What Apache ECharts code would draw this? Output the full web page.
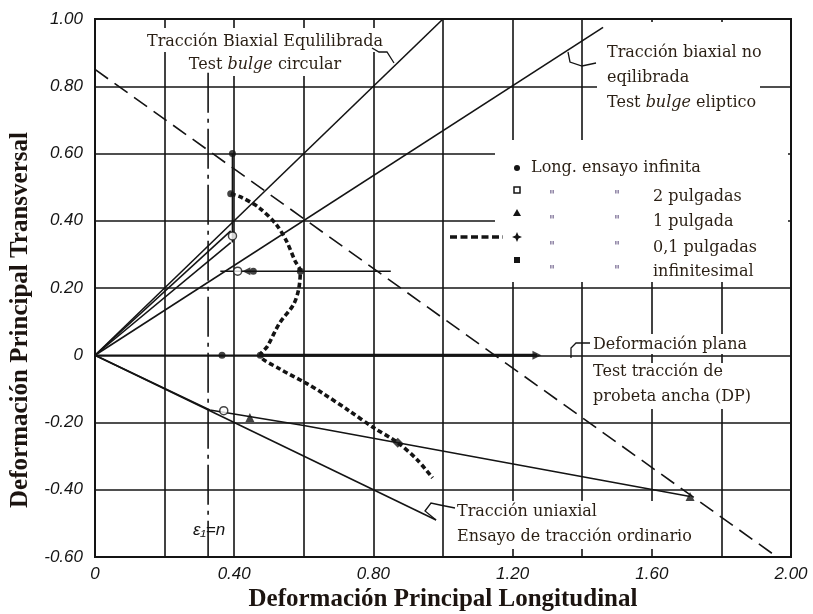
<!DOCTYPE html>
<html><head><meta charset="utf-8">
<script src="https://cdn.jsdelivr.net/npm/echarts@6/dist/echarts.min.js"></script>
<style>html,body{margin:0;padding:0;background:#fff}#c{width:813px;height:614px}</style>
</head><body><div id="c"></div>
<script>
// ---- data ----
const xRange = [0, 2.0];
const yRange = [-0.6, 1.0];
const biaxEq = [[0,0],[1.0,1.0]];
const biaxNoEq = [[0,0],[1.46,0.975]];
const pathA = [[0,0],[0.39,0.37]];
const pathB = [[0,0],[0.39,0.335]];
const pathVert = [[0.395,0.335],[0.395,0.60]];
const pathHoriz = [[0.36,0.25],[0.85,0.25]];
const planeThin = [[0,0],[0.475,0]];
const planeThick = [[0.475,0],[1.27,0]];
const uniaxial = [[0,0],[0.98,-0.49]];
const uniPath = [[0,0],[0.33,-0.163],[0.6,-0.209],[1.71,-0.42]];
const flcLine = [[0,0.85],[1.96,-0.6]];
const nLine = [[0.325,0.84],[0.325,-0.6]];
const flcCurve = [[0.39,0.48],[0.42,0.47],[0.47,0.44],[0.52,0.39],[0.55,0.34],[0.575,0.28],[0.59,0.25],[0.585,0.195],[0.57,0.15],[0.53,0.095],[0.495,0.026],[0.475,0.0],[0.53,-0.04],[0.61,-0.085],[0.65,-0.11],[0.73,-0.165],[0.80,-0.215],[0.87,-0.26],[0.925,-0.31],[0.97,-0.365]];
const dotPts = [[0.395,0.60],[0.39,0.48],[0.455,0.25],[0.59,0.25],[0.365,0],[0.475,0]];
const openPts = [[0.41,0.25],[0.395,0.355],[0.37,-0.165]];
const triPts = [[0.445,-0.185],[1.71,-0.42]];
const arrowRight = [[1.27,0]];
const arrowLeft = [[0.435,0.25]];
const plusPts = [[0.87,-0.26]];

const INK = '#141414';
const TXT = '#2a1f14';

function ln(data, extra) {
  return Object.assign({type:'line', data, symbol:'none', silent:true, z:3,
    lineStyle:{color:INK, width:1.6}}, extra || {});
}
function sc(data, symbol, size, extra) {
  return Object.assign({type:'scatter', data, symbol, symbolSize:size, silent:true, z:4,
    itemStyle:{color:INK}}, extra || {});
}

const series = [
  ln(biaxEq), ln(biaxNoEq), ln(pathA), ln(pathB), ln(pathVert),
  ln(pathHoriz), ln(planeThin), ln(planeThick, {lineStyle:{color:INK,width:3.2}}),
  ln(uniaxial), ln(uniPath),
  ln(flcLine, {lineStyle:{color:INK,width:1.6,type:[16,8]}}),
  ln(nLine, {lineStyle:{color:INK,width:1.6,type:[40,6,4,6]}}),
  ln(flcCurve, {smooth:0.3, lineStyle:{color:INK,width:3.6,type:[5,3]}}),
  sc(dotPts, 'circle', 7),
  sc(openPts, 'circle', 8, {itemStyle:{color:'#fff', borderColor:INK, borderWidth:1.5}}),
  sc(triPts, 'triangle', 9),
  sc(arrowRight, 'triangle', 9, {symbolRotate:-90}),
  sc(arrowLeft, 'triangle', 8, {symbolRotate:90}),
  sc(plusPts, 'diamond', 10)
];

const serif = 'DejaVu Serif';
function txt(text, x, y, align, size, extra) {
  return {type:'text', z:10, style:Object.assign({text, x, y, fill:TXT, fontFamily:serif,
    fontSize:size||16, align:align||'left', verticalAlign:'middle',
    rich:{i:{fontStyle:'italic', fontFamily:serif, fontSize:size||16, fill:TXT}}}, extra||{})};
}
function wrect(x, y, w, h) {
  return {type:'rect', z:1, shape:{x, y, width:w, height:h}, style:{fill:'#fff'}};
}
function pl(points, lw) {
  return {type:'polyline', z:10, shape:{points}, style:{stroke:INK, lineWidth:lw||1.3, fill:null}};
}

const graphic = [
  // white patches behind texts
  wrect(143, 28, 250, 24), wrect(185, 52, 165, 24),
  wrect(597, 22, 191, 57), wrect(597, 79, 163, 10), wrect(597, 89, 191, 193),
  wrect(495, 140, 102, 142),
  wrect(590, 334, 172, 20), wrect(590, 363, 180, 46),
  wrect(455, 501, 246, 48),
  // annotations
  txt('Tracción Biaxial Equlilibrada', 147, 42),
  txt('Test {i|bulge} circular', 265, 65, 'center'),
  txt('Tracción biaxial no', 607, 53),
  txt('eqilibrada', 607, 78),
  txt('Test {i|bulge} eliptico', 607, 103),
  txt('Deformación plana', 593, 345),
  txt('Test tracción de', 593, 372),
  txt('probeta ancha (DP)', 593, 397),
  txt('Tracción uniaxial', 457, 512),
  txt('Ensayo de tracción ordinario', 457, 537),
  // leader marks
  pl([[372,48],[379,52],[387,52],[394,63]]),
  pl([[568,52],[570,62],[582,66],[596,63]]),
  pl([[571,358],[571,348],[576,343],[590,343]]),
  pl([[436,520],[425,511],[431,503],[440,505],[455,508]]),
  // legend
  {type:'circle', z:10, shape:{cx:517, cy:168, r:3}, style:{fill:INK}},
  {type:'rect', z:10, shape:{x:514, y:187, width:6, height:6}, style:{fill:'#fff', stroke:INK, lineWidth:1.5}},
  {type:'polygon', z:10, shape:{points:[[517,209],[513,216],[521,216]]}, style:{fill:INK}},
  {type:'polygon', z:10, shape:{points:[[517,232],[518.5,235.5],[522,237],[518.5,238.5],[517,242],[515.5,238.5],[512,237],[515.5,235.5]]}, style:{fill:INK}},
  {type:'rect', z:10, shape:{x:514, y:257, width:6, height:6}, style:{fill:INK}},
  {type:'line', z:10, shape:{x1:450, y1:237, x2:503, y2:237}, style:{stroke:INK, lineWidth:3.6, lineDash:[7,3.5]}},
  txt('Long. ensayo infinita', 531, 168),
  txt('2 pulgadas', 653, 197), txt('1 pulgada', 653, 222),
  txt('0,1 pulgadas', 653, 248), txt('infinitesimal', 653, 272),
  ...[197,222,248,272].flatMap(y => [
    txt('"', 552, y, 'center', 12, {fill:'#4b3a6e'}),
    txt('"', 617, y, 'center', 12, {fill:'#4b3a6e'})]),
  // epsilon label
  {type:'text', z:10, style:{text:'ε₁=n', x:193, y:530, fill:INK, fontFamily:'Liberation Sans', fontStyle:'italic', fontSize:17, verticalAlign:'middle'}},
  // axis titles
  {type:'text', z:10, style:{text:'Deformación Principal Longitudinal', x:443, y:600, fill:'#1c1410',
    fontFamily:'Liberation Serif', fontWeight:'bold', fontSize:25, align:'center', verticalAlign:'middle'}},
  {type:'text', z:10, rotation:Math.PI/2, x:21, y:320, style:{text:'Deformación Principal Transversal', x:0, y:0, fill:'#1c1410',
    fontFamily:'Liberation Serif', fontWeight:'bold', fontSize:25, align:'center', verticalAlign:'middle'}}
];

const labelStyle = {color:INK, fontFamily:'Liberation Sans', fontStyle:'italic', fontSize:17};
const chart = echarts.init(document.getElementById('c'));
chart.setOption({
  animation:false,
  backgroundColor:'#fff',
  grid:{left:95, right:22, top:19, bottom:57, show:true, borderColor:INK, borderWidth:2, backgroundColor:'transparent'},
  xAxis:{type:'value', min:xRange[0], max:xRange[1], interval:0.2,
    axisLine:{show:false}, axisTick:{show:false},
    splitLine:{show:true, lineStyle:{color:INK, width:1.6}},
    axisLabel:Object.assign({margin:9, formatter:v => {
      const k = Math.round(v*10); if (k % 4 !== 0) return '';
      return k === 0 ? '0' : v.toFixed(2);
    }}, labelStyle)},
  yAxis:{type:'value', min:yRange[0], max:yRange[1], interval:0.2,
    axisLine:{show:false}, axisTick:{show:false},
    splitLine:{show:true, lineStyle:{color:INK, width:1.6}},
    axisLabel:Object.assign({margin:12, formatter:v => Math.abs(v) < 1e-9 ? '0' : v.toFixed(2)}, labelStyle)},
  series,
  graphic
});
</script>
</body></html>
